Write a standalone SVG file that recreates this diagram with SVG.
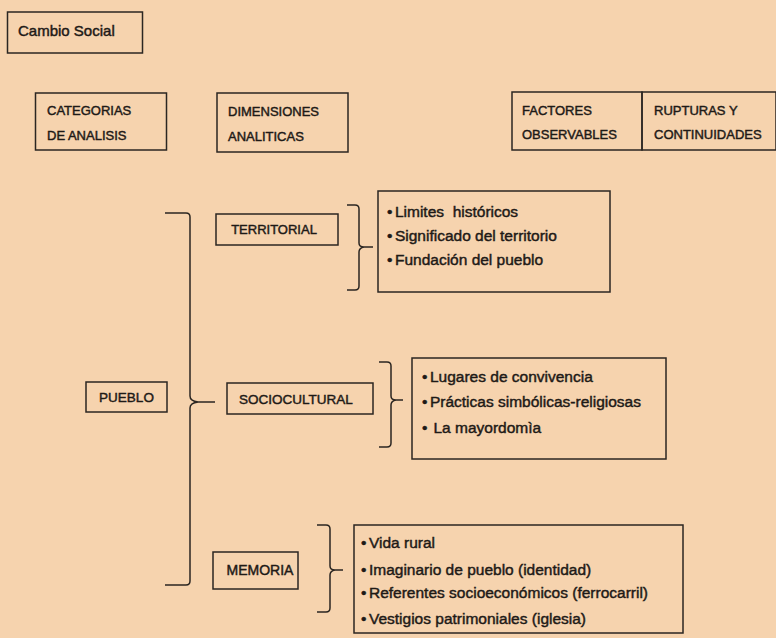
<svg xmlns="http://www.w3.org/2000/svg" width="776" height="638" viewBox="0 0 776 638">
<style>
.box{fill:none;stroke:#2b2622;stroke-width:1.5}
.ln{fill:none;stroke:#2b2622;stroke-width:1.5;stroke-linejoin:round}
text{font-family:"Liberation Sans",Arial,sans-serif;fill:#1e1a17;stroke:#1e1a17;stroke-width:0.45;white-space:pre}
.cap{font-size:13px}
.lc{font-size:15.5px}
</style>
<rect width="776" height="638" fill="#f6d3ae"/>
<g id="cambio-social"><rect class="box" x="7.5" y="12" width="135" height="41"/><text class="lc" x="18" y="36" style="font-size:15px">Cambio Social</text></g>
<g id="categorias"><rect class="box" x="35.5" y="93" width="131" height="57"/><text class="cap" x="47" y="115">CATEGORIAS</text><text class="cap" x="47" y="140">DE ANALISIS</text></g>
<g id="dimensiones"><rect class="box" x="217" y="93" width="131" height="59"/><text class="cap" x="228" y="116">DIMENSIONES</text><text class="cap" x="228" y="141">ANALITICAS</text></g>
<g id="factores"><rect class="box" x="512" y="92" width="130" height="58"/><text class="cap" x="522" y="115">FACTORES</text><text class="cap" x="522" y="139">OBSERVABLES</text></g>
<g id="rupturas"><rect class="box" x="642" y="92" width="134" height="58"/><text class="cap" x="654" y="115">RUPTURAS Y</text><text class="cap" x="654" y="139">CONTINUIDADES</text></g>
<g id="pueblo"><rect class="box" x="86" y="382" width="81" height="30"/><text class="cap" x="126.5" y="402" text-anchor="middle" style="font-size:13.5px">PUEBLO</text></g>
<g id="territorial"><rect class="box" x="216" y="214" width="122" height="31"/><text class="cap" x="274" y="234" text-anchor="middle">TERRITORIAL</text></g>
<g id="sociocultural"><rect class="box" x="227" y="383" width="146" height="31"/><text class="cap" x="296" y="404" text-anchor="middle" style="font-size:13.5px">SOCIOCULTURAL</text></g>
<g id="memoria"><rect class="box" x="213" y="552" width="85" height="37"/><text class="cap" x="260" y="575" text-anchor="middle" style="font-size:14px">MEMORIA</text></g>
<g id="factores-territorial"><rect class="box" x="378" y="191" width="232" height="101"/>
<text class="lc" x="387" y="217">•<tspan dx="2.5">Limites  históricos</tspan></text>
<text class="lc" x="387" y="241">•<tspan dx="2.5">Significado del territorio</tspan></text>
<text class="lc" x="387" y="265">•<tspan dx="2.5">Fundación del pueblo</tspan></text></g>
<g id="factores-sociocultural"><rect class="box" x="412" y="358" width="254" height="101"/>
<text class="lc" x="422" y="382">•<tspan dx="2.5">Lugares de convivencia</tspan></text>
<text class="lc" x="422" y="407">•<tspan dx="2.5">Prácticas simbólicas-religiosas</tspan></text>
<text class="lc" x="422" y="433">•<tspan dx="6">La mayordomìa</tspan></text></g>
<g id="factores-memoria"><rect class="box" x="354" y="525" width="329" height="108"/>
<text class="lc" x="361" y="548">•<tspan dx="2.5">Vida rural</tspan></text>
<text class="lc" x="361" y="575">•<tspan dx="2.5">Imaginario de pueblo (identidad)</tspan></text>
<text class="lc" x="361" y="598">•<tspan dx="2.5">Referentes socioeconómicos (ferrocarril)</tspan></text>
<text class="lc" x="361" y="624">•<tspan dx="2.5">Vestigios patrimoniales (iglesia)</tspan></text></g>
<g id="connectors">
<path class="ln" d="M165 213 H186 Q190 213 190 217 V396 Q190 401 198 402 H215 M198 402 Q190 403 190 408 V581 Q190 585 186 585 H165"/>
<path class="ln" d="M347 205 H355 Q359 205 359 209 V243 Q359 247 364 247 H373 M364 247 Q359 248 359 252 V286 Q359 290 355 290 H347"/>
<path class="ln" d="M379 362 H387 Q391 362 391 366 V396 Q391 400 396 400 H403 M396 400 Q391 401 391 405 V443 Q391 447 387 447 H379"/>
<path class="ln" d="M317 525 H326 Q330 525 330 529 V566 Q330 570 335 570 H343 M335 570 Q330 571 330 575 V608 Q330 612 326 612 H317"/>
</g>
</svg>
